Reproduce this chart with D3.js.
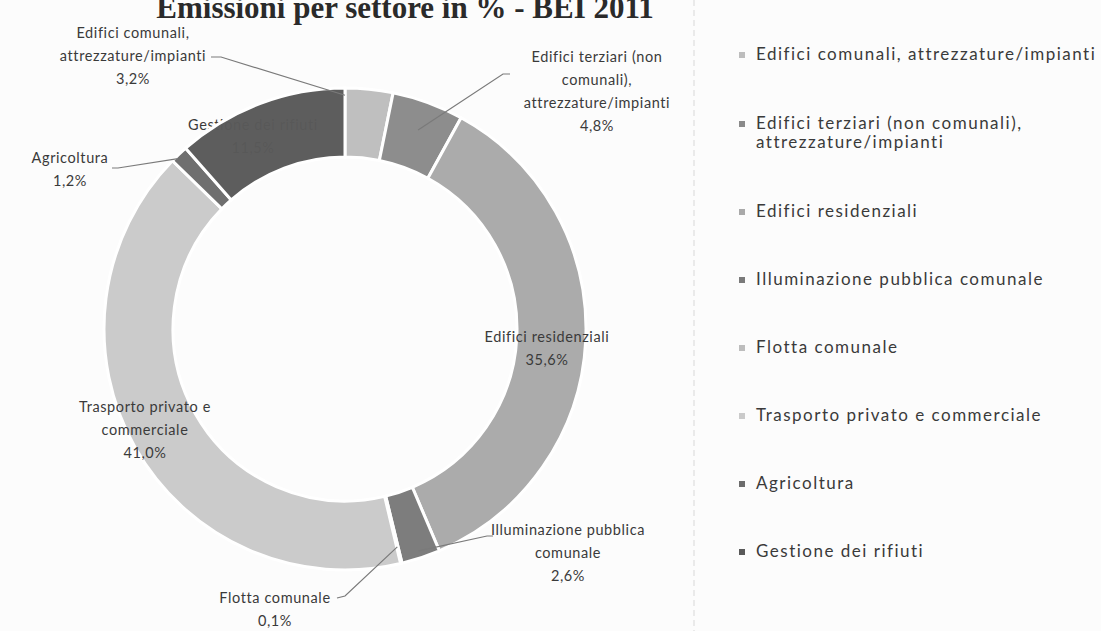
<!DOCTYPE html>
<html><head><meta charset="utf-8">
<script src="https://cdn.jsdelivr.net/npm/d3@7"></script>
<style>
html,body{margin:0;padding:0;background:#fcfcfc;}
svg{display:block;}
</style></head>
<body>
<svg id="c" width="1101" height="631"></svg>
<script>
// ---- data ----
const titleText = "Emissioni per settore in % - BEI 2011";
const categories = [
  "Edifici comunali, attrezzature/impianti",
  "Edifici terziari (non comunali), attrezzature/impianti",
  "Edifici residenziali",
  "Illuminazione pubblica comunale",
  "Flotta comunale",
  "Trasporto privato e commerciale",
  "Agricoltura",
  "Gestione dei rifiuti"
];
const values = [3.2, 4.8, 35.6, 2.6, 0.1, 41.0, 1.2, 11.5];
const valueLabels = ["3,2%", "4,8%", "35,6%", "2,6%", "0,1%", "41,0%", "1,2%", "11,5%"];
const labelLines = [
  ["Edifici comunali,", "attrezzature/impianti"],
  ["Edifici terziari (non", "comunali),", "attrezzature/impianti"],
  ["Edifici residenziali"],
  ["Illuminazione pubblica", "comunale"],
  ["Flotta comunale"],
  ["Trasporto privato e", "commerciale"],
  ["Agricoltura"],
  ["Gestione dei rifiuti"]
];
const legendLines = [
  ["Edifici comunali, attrezzature/impianti"],
  ["Edifici terziari (non comunali),", "attrezzature/impianti"],
  ["Edifici residenziali"],
  ["Illuminazione pubblica comunale"],
  ["Flotta comunale"],
  ["Trasporto privato e commerciale"],
  ["Agricoltura"],
  ["Gestione dei rifiuti"]
];
const colors = ["#bdbdbd", "#8a8a8a", "#a9a9a9", "#7a7a7a", "#bdbdbd", "#cacaca", "#6c6c6c", "#595959"];

// ---- layout (positions only) ----
const cx = 345, cy = 329, rOuter = 241, rInner = 172;
const labelPos = [
  {x: 133, y: 33}, {x: 597, y: 57}, {x: 547, y: 337}, {x: 568, y: 530},
  {x: 275, y: 598}, {x: 145, y: 407}, {x: 70, y: 158}, {x: 253, y: 125}
];
const lineH = 23;
// leader: from/bend in px, end at fraction f of slice span, radius factor r
const leaders = [
  {from: [211, 57], bend: [221, 57], f: 0.0, r: 0.97},
  {from: [510, 74], bend: [503, 74], f: 0.5, r: 0.88},
  null,
  {from: [493, 536], bend: [487, 536], f: 0.5, r: 0.97},
  {from: [337, 598], bend: [345, 596], f: 0.5, r: 0.93},
  null,
  {from: [112, 168], bend: [118, 168], f: 0.3, r: 0.99},
  null
];
const legendX = 742, legendYs = [55, 124, 212, 280, 348, 416, 484, 552];

const svg = d3.select("#c");
const font = "Lato, 'Open Sans', sans-serif";

// faint scan fold line
svg.append("line").attr("x1", 694).attr("x2", 694).attr("y1", 0).attr("y2", 631)
  .attr("stroke", "#e4e4e4").attr("stroke-width", 1.5).attr("stroke-dasharray", "6,4");

// title (cut at the top edge, as in the scanned original)
svg.append("text").attr("x", 405).attr("y", 18).attr("text-anchor", "middle")
  .attr("font-family", "'Liberation Serif', 'DejaVu Serif', serif").attr("font-weight", "bold")
  .attr("font-size", 31).attr("fill", "#2a2a2a").text(titleText);

function drawLabel(i, parent) {
  const lines = labelLines[i].concat([valueLabels[i]]);
  const t = parent.append("text").attr("text-anchor", "middle")
    .attr("font-family", font).attr("font-size", 14.5).attr("letter-spacing", 0.6)
    .attr("fill", "#3a3a3a");
  lines.forEach((l, k) => {
    t.append("tspan").attr("x", labelPos[i].x).attr("y", labelPos[i].y + k * lineH + 5).text(l);
  });
}
// Gestione label is overlapped by the ring: draw it first
drawLabel(7, svg);

const pie = d3.pie().sort(null).value(d => d)(values);
const arc = d3.arc().innerRadius(rInner).outerRadius(rOuter);
const g = svg.append("g").attr("transform", `translate(${cx},${cy})`);

g.selectAll("path.slice").data(pie).join("path").attr("class", "slice")
  .attr("d", arc).attr("fill", (d, i) => colors[i])
  .attr("fill-opacity", 0.975)
  .attr("stroke", "#ffffff").attr("stroke-width", 3);

// leaders
const lineGen = d3.line();
pie.forEach((d, i) => {
  const L = leaders[i];
  if (!L) return;
  const a = d.startAngle + L.f * (d.endAngle - d.startAngle);
  const rr = rOuter * L.r;
  const end = [cx + rr * Math.sin(a), cy - rr * Math.cos(a)];
  svg.append("path").attr("d", lineGen([L.from, L.bend, end]))
    .attr("fill", "none").attr("stroke", "#7a7a7a").attr("stroke-width", 1.2);
});

// labels
[0, 1, 2, 3, 4, 5, 6].forEach(i => drawLabel(i, svg));

// legend
const lg = svg.append("g");
legendLines.forEach((lines, i) => {
  const y = legendYs[i];
  lg.append("rect").attr("x", legendX - 3).attr("y", y - 3).attr("width", 6).attr("height", 6)
    .attr("fill", colors[i]);
  const t = lg.append("text").attr("font-family", font).attr("font-size", 17)
    .attr("letter-spacing", 1.5).attr("fill", "#3a3a3a");
  lines.forEach((l, k) => {
    t.append("tspan").attr("x", legendX + 14).attr("y", y + 5 + k * 19).text(l);
  });
});
</script>
</body></html>
